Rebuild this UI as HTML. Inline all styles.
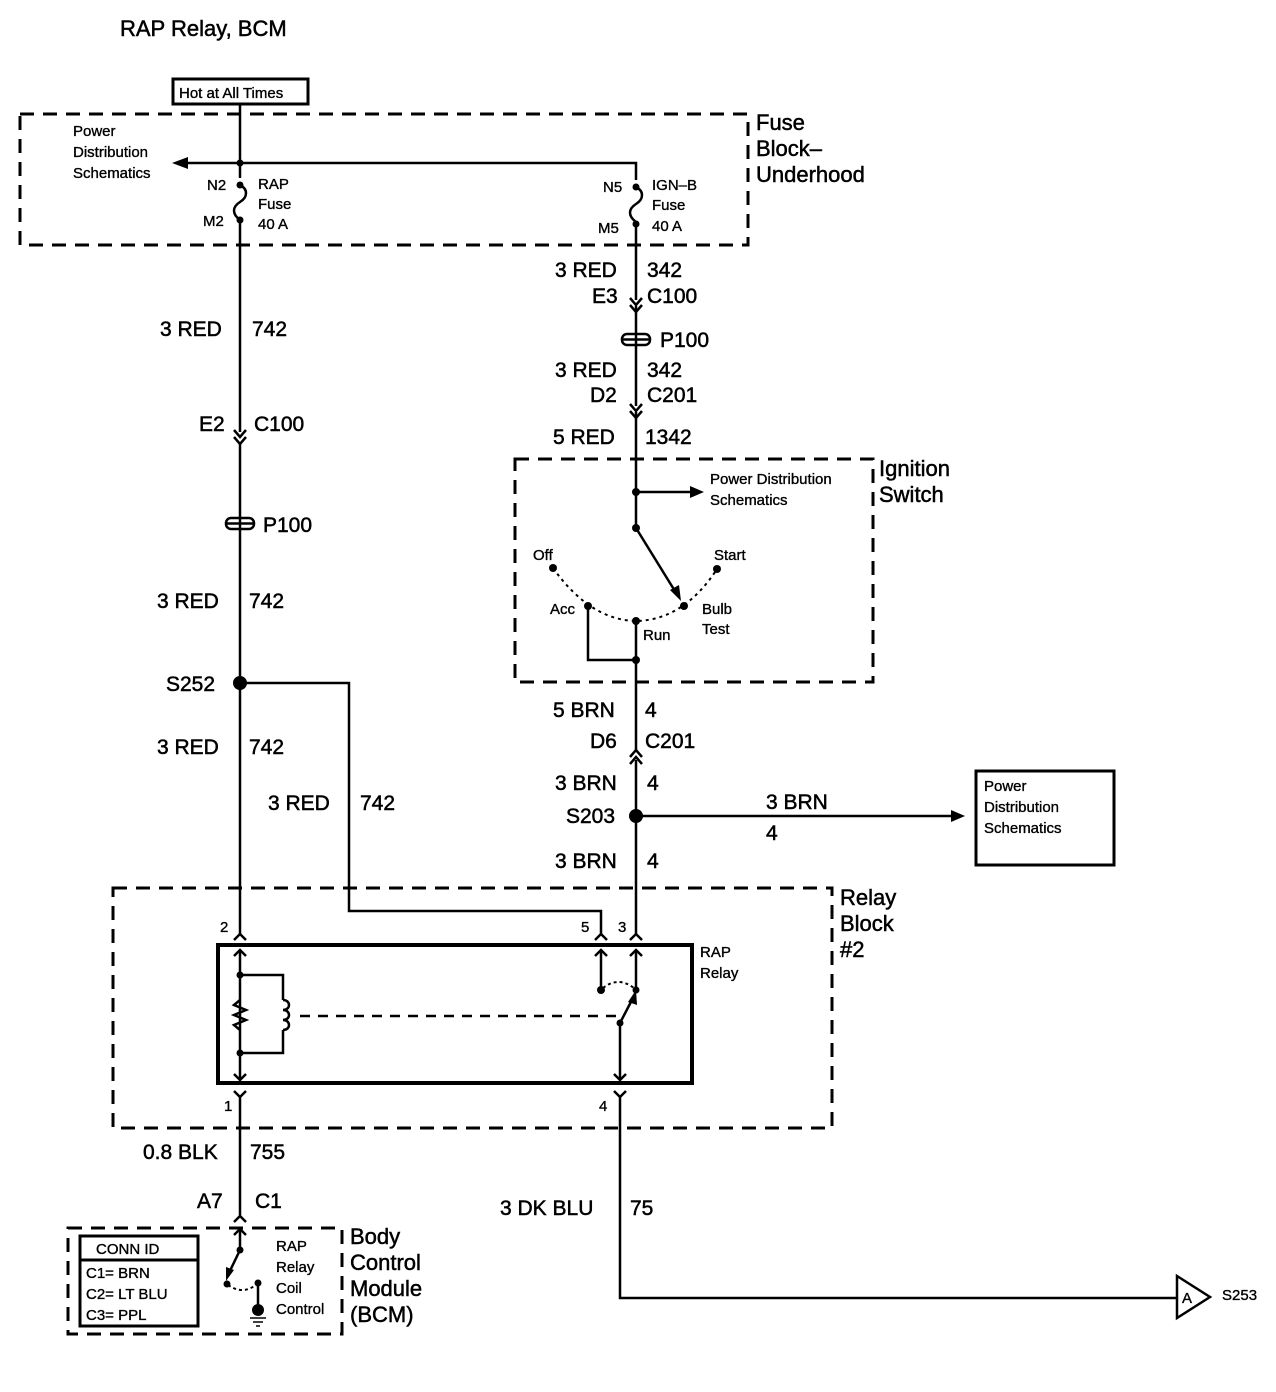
<!DOCTYPE html>
<html><head><meta charset="utf-8"><style>
html,body{margin:0;padding:0;background:#fff;}
svg{display:block;}
text{font-family:"Liberation Sans",Arial,sans-serif;fill:#000;stroke:#000;stroke-width:0.5;}
.w{font-size:21px;}
.s{font-size:15px;stroke-width:0.35;}
.m{font-size:22px;}
</style></head><body>
<svg width="1276" height="1392" viewBox="0 0 1276 1392" xmlns="http://www.w3.org/2000/svg">
<g fill="none" stroke="#000" stroke-width="2.5">
<rect x="173" y="79" width="135" height="25" stroke-width="3"/>
<rect x="20" y="114" width="728" height="131" stroke-dasharray="14,9" stroke-width="3"/>
<rect x="515" y="459" width="358" height="223" stroke-dasharray="14,9" stroke-width="3"/>
<rect x="113" y="888" width="719" height="240" stroke-dasharray="14,9" stroke-width="3"/>
<rect x="68" y="1228" width="274" height="106" stroke-dasharray="14,9" stroke-width="3"/>
<rect x="218" y="945" width="474" height="138" stroke-width="4"/>
<rect x="976" y="771" width="138" height="94" stroke-width="3"/>
<rect x="80" y="1236" width="118" height="90" stroke-width="3"/>
<line x1="80" y1="1260" x2="198" y2="1260" stroke-width="3"/>

<line x1="240" y1="104" x2="240" y2="178"/>
<path d="M240 185 c8 4 8 12 0 17 c-8 5 -8 12 0 18"/>
<line x1="240" y1="220" x2="240" y2="432"/>
<line x1="240" y1="442" x2="240" y2="935"/>
<path d="M185 163 H636 V180"/>
<path d="M636 187 c8 4 8 12 0 17 c-8 5 -8 12 0 18"/>
<line x1="636" y1="224" x2="636" y2="300"/>
<line x1="636" y1="306" x2="636" y2="406"/>
<line x1="636" y1="412" x2="636" y2="528"/>
<path d="M636 492 H693"/>
<path d="M636 528 L678 596"/>
<path d="M588 606 V660 H636"/>
<line x1="636" y1="621" x2="636" y2="750"/>
<line x1="636" y1="760" x2="636" y2="935"/>
<path d="M636 816 H955"/>
<path d="M240 683 H349 V911 H601 V935"/>
<path d="M234 430 L240 437 L246 430 M234 437 L240 444 L246 437"/>
<path d="M630 298 L636 305 L642 298 M630 305 L636 312 L642 305"/>
<path d="M630 404 L636 411 L642 404 M630 411 L636 418 L642 411"/>
<path d="M630 757 L636 750 L642 757 M630 764 L636 757 L642 764"/>
<g stroke-width="2.5">
<rect x="226" y="518" width="28" height="11" rx="5"/><line x1="226" y1="523.5" x2="254" y2="523.5"/>
<rect x="622" y="334" width="28" height="11" rx="5"/><line x1="622" y1="339.5" x2="650" y2="339.5"/>
</g>
<path d="M234 940 L240 934 L246 940 M234 956 L240 950 L246 956"/>
<path d="M595 940 L601 934 L607 940 M595 956 L601 950 L607 956"/>
<path d="M630 940 L636 934 L642 940 M630 956 L636 950 L642 956"/>
<path d="M234 1074 L240 1080 L246 1074 M234 1091 L240 1097 L246 1091"/>
<path d="M614 1074 L620 1080 L626 1074 M614 1091 L620 1097 L626 1091"/>
<line x1="240" y1="950" x2="240" y2="1080"/>
<line x1="240" y1="1097" x2="240" y2="1208"/>
<path d="M620 1097 V1298 H1177"/>
<path d="M240 975 H283 V1000 M283 1030 V1053 H240"/>
<path d="M240 1000 l-6 5 l12 5 l-12 5 l12 5 l-12 5 l6 5" stroke-width="2.5"/>
<path d="M283 1000 c8 0 8 10 0 10 c8 0 8 10 0 10 c8 0 8 10 0 10" />
<line x1="300" y1="1016" x2="620" y2="1016" stroke-dasharray="10,8"/>
<line x1="601" y1="950" x2="601" y2="990"/>
<line x1="636" y1="950" x2="636" y2="990"/>
<path d="M620 1023 L634 996"/>
<line x1="620" y1="1023" x2="620" y2="1080"/>
<path d="M603 988 Q618 976 634 988" stroke-dasharray="3,3" stroke-width="2"/>
<path d="M553 568 Q590 620 636 621 Q684 620 717 569" stroke-dasharray="3,4" stroke-width="2"/>
<line x1="240" y1="1208" x2="240" y2="1216"/>
<path d="M234 1222 L240 1216 L246 1222 M234 1235 L240 1229 L246 1235"/>
<path d="M240 1229 V1250 L227 1277"/>
<path d="M228 1285 Q244 1296 258 1283" stroke-dasharray="3,3" stroke-width="2"/>
<line x1="258" y1="1283" x2="258" y2="1312"/>
<path d="M250 1318 H266 M253 1322 H263 M256 1326 H260" stroke-width="1.5"/>
<path d="M1177 1276 L1210 1297 L1177 1318 Z" stroke-width="2.5"/>
</g>
<g fill="#000">
<polygon points="172,163 188,157 188,169"/>
<polygon points="704,492 690,486 690,498"/>
<polygon points="965,816 951,810 951,822"/>
<polygon points="681,601 670,590 679,585"/>
<polygon points="636,990 628,1002 637,1005"/>
<polygon points="226,1281 226,1267 234,1270"/>
<circle cx="240" cy="163" r="3.5"/><circle cx="240" cy="185" r="3.5"/><circle cx="240" cy="220" r="3.5"/>
<circle cx="636" cy="187" r="3.5"/><circle cx="636" cy="224" r="3.5"/>
<circle cx="636" cy="492" r="4"/><circle cx="636" cy="528" r="4"/>
<circle cx="553" cy="568" r="4"/><circle cx="717" cy="569" r="4"/>
<circle cx="588" cy="606" r="4"/><circle cx="636" cy="621" r="4"/><circle cx="684" cy="606" r="4"/>
<circle cx="636" cy="660" r="4"/>
<circle cx="240" cy="683" r="7"/><circle cx="636" cy="816" r="7"/>
<circle cx="240" cy="975" r="3.5"/><circle cx="240" cy="1053" r="3.5"/>
<circle cx="601" cy="990" r="4"/><circle cx="636" cy="990" r="3.5"/><circle cx="620" cy="1023" r="3.5"/>
<circle cx="240" cy="1250" r="3.5"/><circle cx="227" cy="1284" r="3.5"/><circle cx="258" cy="1283" r="3.5"/>
<circle cx="258" cy="1310" r="6"/>
</g>
<text x="120" y="36" class="m">RAP Relay, BCM</text>
<text x="179" y="98" class="s">Hot at All Times</text>
<text x="73" y="136" class="s">Power</text>
<text x="73" y="157" class="s">Distribution</text>
<text x="73" y="178" class="s">Schematics</text>
<text x="207" y="190" class="s">N2</text><text x="203" y="226" class="s">M2</text>
<text x="258" y="189" class="s">RAP</text><text x="258" y="209" class="s">Fuse</text><text x="258" y="229" class="s">40 A</text>
<text x="603" y="192" class="s">N5</text><text x="598" y="233" class="s">M5</text>
<text x="652" y="190" class="s">IGN–B</text><text x="652" y="210" class="s">Fuse</text><text x="652" y="231" class="s">40 A</text>
<text x="756" y="130" class="m">Fuse</text><text x="756" y="156" class="m">Block–</text><text x="756" y="182" class="m">Underhood</text>
<text x="555" y="277" class="w">3 RED</text><text x="647" y="277" class="w">342</text>
<text x="592" y="303" class="w">E3</text><text x="647" y="303" class="w">C100</text>
<text x="660" y="347" class="w">P100</text>
<text x="555" y="377" class="w">3 RED</text><text x="647" y="377" class="w">342</text>
<text x="590" y="402" class="w">D2</text><text x="647" y="402" class="w">C201</text>
<text x="553" y="444" class="w">5 RED</text><text x="645" y="444" class="w">1342</text>
<text x="160" y="336" class="w">3 RED</text><text x="252" y="336" class="w">742</text>
<text x="199" y="431" class="w">E2</text><text x="254" y="431" class="w">C100</text>
<text x="263" y="532" class="w">P100</text>
<text x="157" y="608" class="w">3 RED</text><text x="249" y="608" class="w">742</text>
<text x="166" y="691" class="w">S252</text>
<text x="157" y="754" class="w">3 RED</text><text x="249" y="754" class="w">742</text>
<text x="268" y="810" class="w">3 RED</text><text x="360" y="810" class="w">742</text>
<text x="879" y="476" class="m">Ignition</text><text x="879" y="502" class="m">Switch</text>
<text x="710" y="484" class="s">Power Distribution</text><text x="710" y="505" class="s">Schematics</text>
<text x="533" y="560" class="s">Off</text><text x="714" y="560" class="s">Start</text>
<text x="550" y="614" class="s">Acc</text><text x="643" y="640" class="s">Run</text>
<text x="702" y="614" class="s">Bulb</text><text x="702" y="634" class="s">Test</text>
<text x="553" y="717" class="w">5 BRN</text><text x="645" y="717" class="w">4</text>
<text x="590" y="748" class="w">D6</text><text x="645" y="748" class="w">C201</text>
<text x="555" y="790" class="w">3 BRN</text><text x="647" y="790" class="w">4</text>
<text x="566" y="823" class="w">S203</text>
<text x="766" y="809" class="w">3 BRN</text><text x="766" y="840" class="w">4</text>
<text x="555" y="868" class="w">3 BRN</text><text x="647" y="868" class="w">4</text>
<text x="984" y="791" class="s">Power</text><text x="984" y="812" class="s">Distribution</text><text x="984" y="833" class="s">Schematics</text>
<text x="840" y="905" class="m">Relay</text><text x="840" y="931" class="m">Block</text><text x="840" y="957" class="m">#2</text>
<text x="220" y="932" class="s">2</text><text x="581" y="932" class="s">5</text><text x="618" y="932" class="s">3</text>
<text x="224" y="1111" class="s">1</text><text x="599" y="1111" class="s">4</text>
<text x="700" y="957" class="s">RAP</text><text x="700" y="978" class="s">Relay</text>
<text x="143" y="1159" class="w">0.8 BLK</text><text x="250" y="1159" class="w">755</text>
<text x="197" y="1208" class="w">A7</text><text x="255" y="1208" class="w">C1</text>
<text x="500" y="1215" class="w">3 DK BLU</text><text x="630" y="1215" class="w">75</text>
<text x="1182" y="1303" class="s">A</text><text x="1222" y="1300" class="s">S253</text>
<text x="96" y="1254" class="s">CONN ID</text>
<text x="86" y="1278" class="s">C1= BRN</text><text x="86" y="1299" class="s">C2= LT BLU</text><text x="86" y="1320" class="s">C3= PPL</text>
<text x="276" y="1251" class="s">RAP</text><text x="276" y="1272" class="s">Relay</text><text x="276" y="1293" class="s">Coil</text><text x="276" y="1314" class="s">Control</text>
<text x="350" y="1244" class="m">Body</text><text x="350" y="1270" class="m">Control</text><text x="350" y="1296" class="m">Module</text><text x="350" y="1322" class="m">(BCM)</text>
</svg>
</body></html>
